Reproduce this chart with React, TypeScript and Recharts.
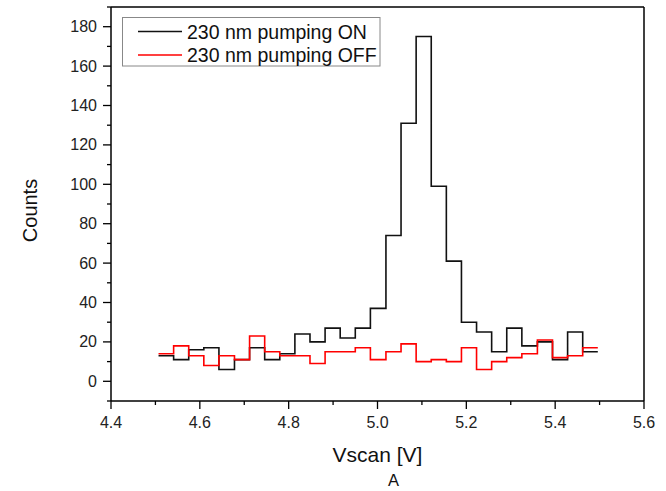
import React from 'react';
import { LineChart, Line, XAxis, YAxis, ReferenceLine } from 'recharts';

// bin edges of the Vscan histogram (V)
const binEdges = [
  4.507, 4.541, 4.575, 4.609, 4.643, 4.678, 4.712, 4.746, 4.780, 4.814,
  4.848, 4.882, 4.916, 4.950, 4.984, 5.019, 5.053, 5.087, 5.121, 5.155,
  5.189, 5.223, 5.257, 5.291, 5.325, 5.360, 5.394, 5.428, 5.462, 5.496,
];

// counts per bin
const countsOn = [13, 11, 16, 17, 6, 11, 17, 11, 14, 24, 20, 27, 22, 27, 37, 74, 131, 175, 99, 61, 30, 25, 15, 27, 18, 20, 11, 25, 15];
const countsOff = [14, 18, 13, 8, 13, 11, 23, 15, 13, 13, 9, 15, 15, 17, 11, 15, 19, 10, 11, 10, 17, 6, 10, 12, 14, 21, 12, 13, 17];

const seriesNames = ['230 nm pumping ON', '230 nm pumping OFF'];
const seriesColors = ['#111111', '#ff0000'];

const xTicks = [4.4, 4.5, 4.6, 4.7, 4.8, 4.9, 5.0, 5.1, 5.2, 5.3, 5.4, 5.5, 5.6];
const xLabels = ['4.4', '4.6', '4.8', '5.0', '5.2', '5.4', '5.6'];
const yTicks = [-10, 0, 10, 20, 30, 40, 50, 60, 70, 80, 90, 100, 110, 120, 130, 140, 150, 160, 170, 180, 190];
const yLabels = ['0', '20', '40', '60', '80', '100', '120', '140', '160', '180'];

const FONT = '"Liberation Sans", Arial, sans-serif';

// stepAfter needs the last value repeated at the closing edge
const data = binEdges.map((v, i) => ({
  v,
  on: countsOn[Math.min(i, countsOn.length - 1)],
  off: countsOff[Math.min(i, countsOff.length - 1)],
}));

const XTick = (props: any) => {
  const { x, y, payload } = props;
  const label = Number(payload.value).toFixed(1);
  const major = xLabels.includes(label);
  return (
    <g>
      <line x1={x} x2={x} y1={y} y2={y + (major ? 8 : 4)} stroke="#000" strokeWidth={1.3} />
      {major && (
        <text x={x} y={y + 26.5} textAnchor="middle" fontSize={16} fontFamily={FONT} fill="#222">
          {label}
        </text>
      )}
    </g>
  );
};

const YTick = (props: any) => {
  const { x, y, payload } = props;
  const label = String(Math.round(payload.value));
  const major = yLabels.includes(label);
  return (
    <g>
      <line x1={x} x2={x - (major ? 8 : 4)} y1={y} y2={y} stroke="#000" strokeWidth={1.3} />
      {major && (
        <text x={x - 14} y={y + 5.5} textAnchor="end" fontSize={16} fontFamily={FONT} fill="#222">
          {label}
        </text>
      )}
    </g>
  );
};

export default function App() {
  return (
    <div style={{ position: 'absolute', left: 0, top: 0 }}>
      <LineChart width={666} height={491} data={data} margin={{ top: 7, right: 22, bottom: 0, left: 0 }}>
        <XAxis
          dataKey="v"
          type="number"
          domain={[4.4, 5.6]}
          ticks={xTicks}
          interval={0}
          tickSize={0}
          tickMargin={0}
          tickLine={false}
          tick={<XTick />}
          height={90}
          axisLine={{ stroke: '#000', strokeWidth: 1.5 }}
          allowDataOverflow
        />
        <YAxis
          type="number"
          domain={[-10, 190]}
          ticks={yTicks}
          interval={0}
          tickSize={0}
          tickMargin={0}
          tickLine={false}
          tick={<YTick />}
          width={111}
          axisLine={{ stroke: '#000', strokeWidth: 1.5 }}
          allowDataOverflow
        />
        <ReferenceLine y={190} stroke="#000" strokeWidth={1.5} />
        <ReferenceLine x={5.6} stroke="#000" strokeWidth={1.5} />
        <Line type="stepAfter" dataKey="on" stroke={seriesColors[0]} strokeWidth={1.6} dot={false} isAnimationActive={false} />
        <Line type="stepAfter" dataKey="off" stroke={seriesColors[1]} strokeWidth={1.6} dot={false} isAnimationActive={false} />

        {/* legend box */}
        <rect x={122.5} y={17.5} width={257.5} height={48.5} fill="#fff" stroke="#888" strokeWidth={1} />
        {seriesNames.map((name, i) => (
          <g key={name}>
            <line x1={138} x2={182} y1={31.5 + i * 23.5} y2={31.5 + i * 23.5} stroke={seriesColors[i]} strokeWidth={1.6} />
            <text x={187} y={38.5 + i * 23.5} fontSize={19.5} fontFamily={FONT} fill="#111">
              {name}
            </text>
          </g>
        ))}

        <text x={37} y={210.5} transform="rotate(-90, 37, 210.5)" textAnchor="middle" fontSize={20} fontFamily={FONT} fill="#111">
          Counts
        </text>
        <text x={377.5} y={462.3} textAnchor="middle" fontSize={21} fontFamily={FONT} fill="#111">
          Vscan [V]
        </text>
        <text x={393.5} y={486} textAnchor="middle" fontSize={16.5} fontFamily={FONT} fill="#111">
          A
        </text>
      </LineChart>
    </div>
  );
}
